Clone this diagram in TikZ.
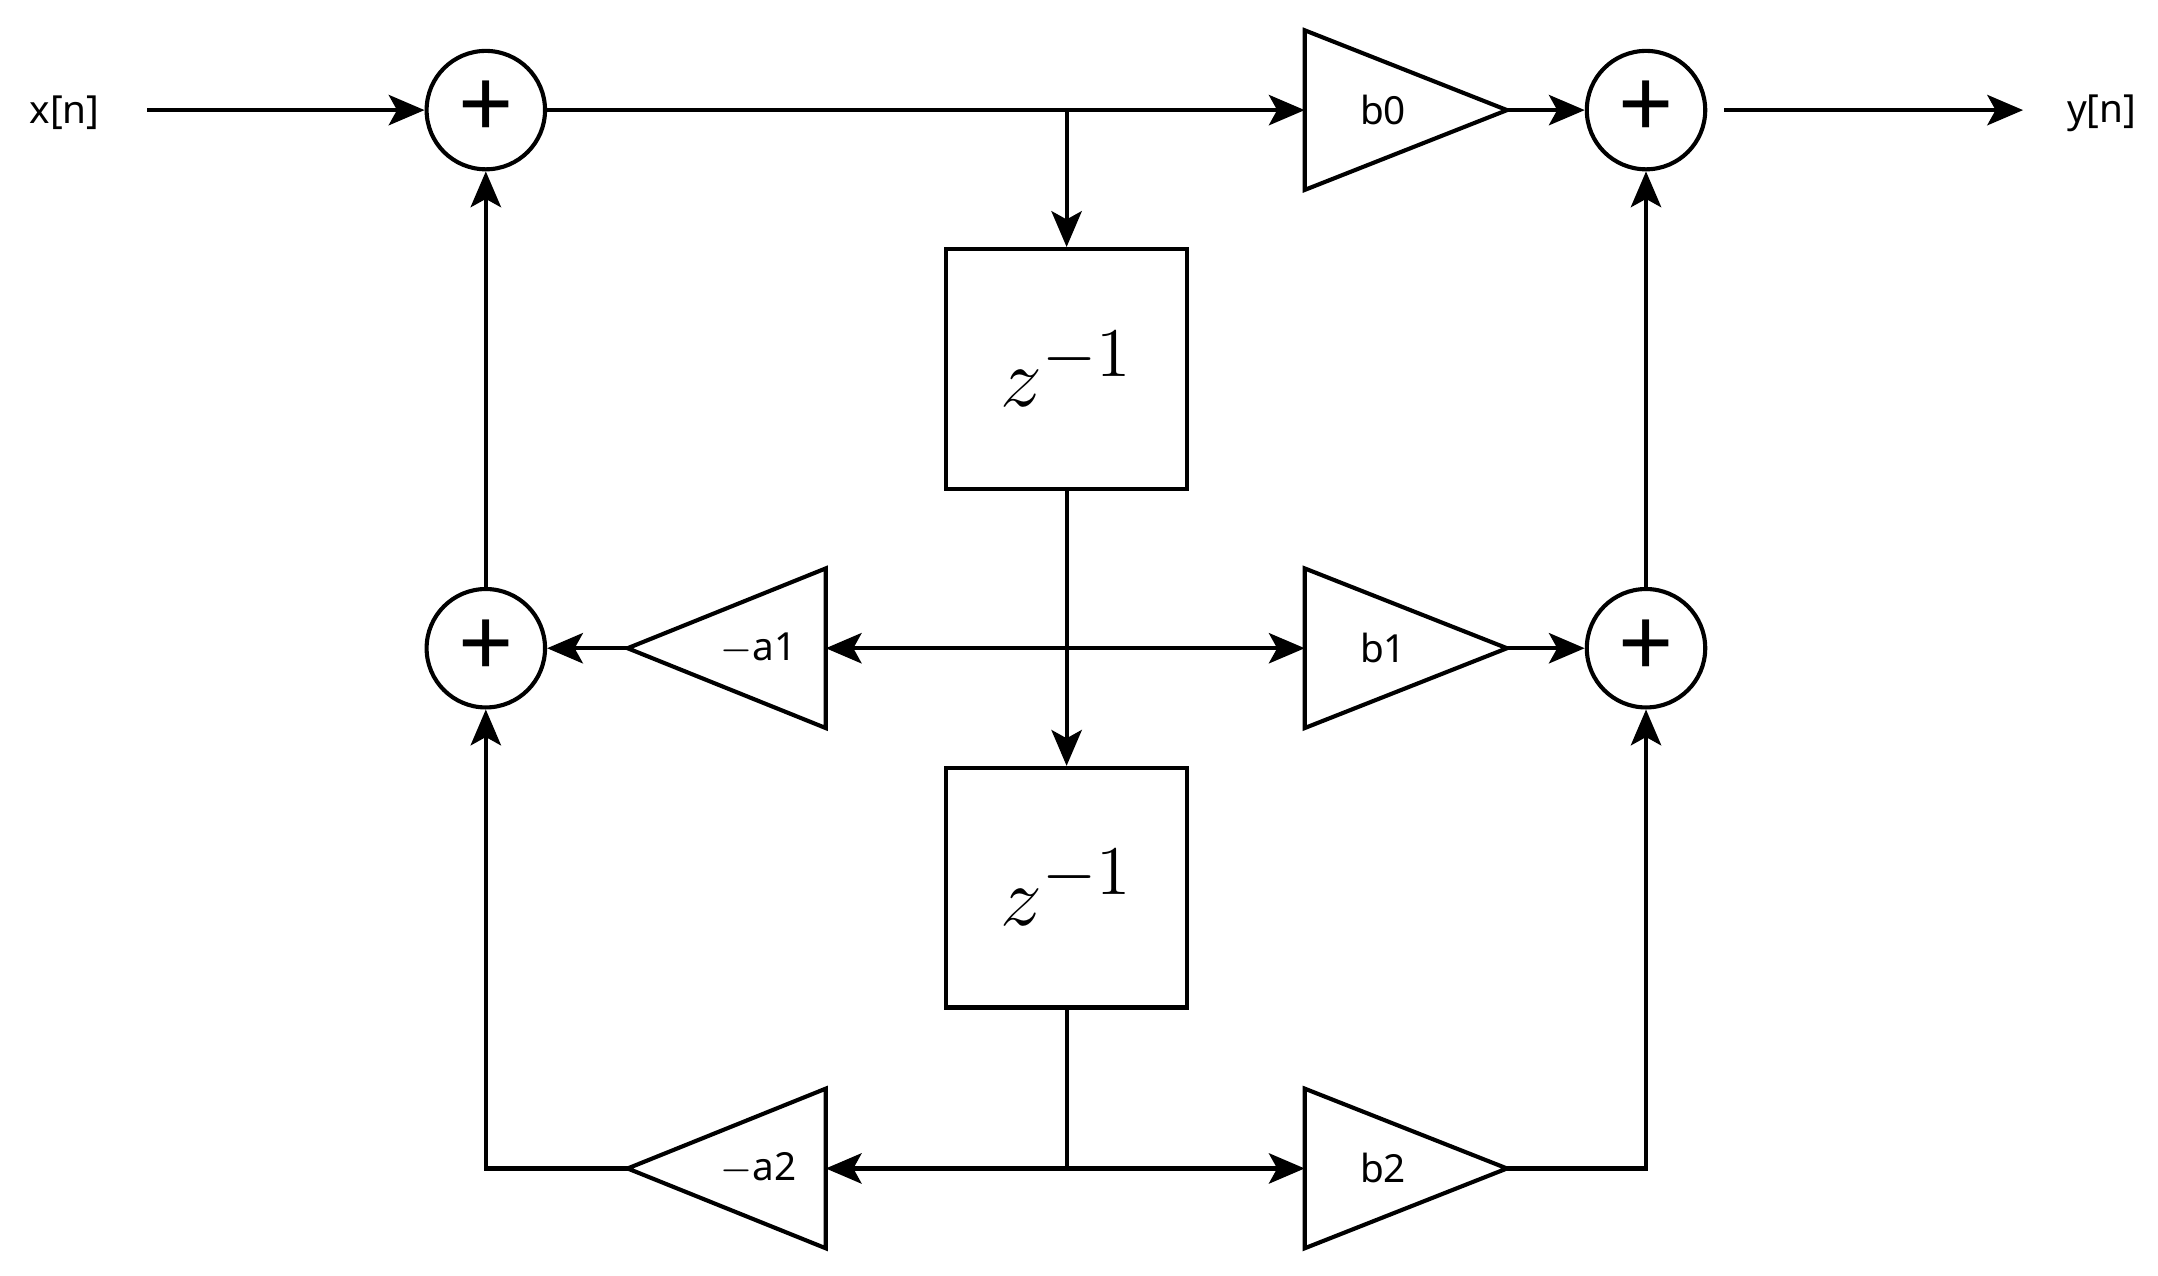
\documentclass[tikz,border=0pt]{standalone}
\usepackage{fontspec}
\setmainfont{Noto Sans}
\usetikzlibrary{arrows.meta}
\begin{document}
\begin{tikzpicture}[x=0.01cm,y=-0.01cm,line width=0.85pt,
  sum/.style={circle,draw,minimum size=0.86cm,inner sep=0pt,font=\fontsize{20}{20}\selectfont},
  dly/.style={draw,minimum width=1.75cm,minimum height=1.74cm,inner sep=0pt},
  lab/.style={font=\fontsize{8}{10}\selectfont},
  arr/.style={-{Stealth[length=2.6mm,width=2.2mm,inset=0.6mm]}},
  tri/.style={line join=miter}]
\useasboundingbox (0,0) rectangle (1568,927);
\node[lab] (x) at (47,82) {x[n]};
\node[lab] (y) at (1527,82) {y[n]};
\coordinate (xs) at (107,80);
\coordinate (ye) at (1253,80);
\coordinate (ye2) at (1470,80);
\node[sum] (s1) at (353,80) {+};
\node[sum] (s2) at (353,471) {+};
\node[sum] (s3) at (1196,80) {+};
\node[sum] (s4) at (1196,471) {+};
\node[dly] (d1) at (775,268) {\fontsize{19}{19}\selectfont$z^{-1}$};
\node[dly] (d2) at (775,645) {\fontsize{19}{19}\selectfont$z^{-1}$};
% gain triangles
\foreach \n/\yy in {b0/80,b1/471,b2/849}{
  \coordinate (\n in) at (948,\yy);
  \coordinate (\n out) at (1095,\yy);
  \draw[tri] (948,\yy-58) -- (1095,\yy) -- (948,\yy+58) -- cycle;
}
\foreach \n/\yy in {a1/471,a2/849}{
  \coordinate (\n in) at (600,\yy);
  \coordinate (\n out) at (456,\yy);
  \draw[tri] (600,\yy-58) -- (456,\yy) -- (600,\yy+58) -- cycle;
}
\node[lab] at (1005,80) {b0};
\node[lab] at (1005,471) {b1};
\node[lab] at (1005,849) {b2};
\node[lab] at (551,471) {$-$a1};
\node[lab] at (551,849) {$-$a2};
\coordinate (j1) at (775,80);
\coordinate (j2) at (775,849);
\coordinate (c2) at (353,849);
\coordinate (c4) at (1196,849);
\draw[arr] (xs) -- (s1);
\draw[arr] (s1) -- (b0in);
\draw[arr] (j1) -- (d1.north);
\draw[arr] (b0out) -- (s3);
\draw[arr] (ye) -- (ye2);
\draw[arr] (d1.south) -- (d2.north);
\draw[{Stealth[length=2.6mm,width=2.2mm,inset=0.6mm]}-{Stealth[length=2.6mm,width=2.2mm,inset=0.6mm]}] (a1in) -- (b1in);
\draw[arr] (a1out) -- (s2);
\draw[arr] (b1out) -- (s4);
\draw (d2.south) -- (j2);
\draw[arr] (j2) -- (a2in);
\draw[arr] (j2) -- (b2in);
\draw[arr] (a2out) -- (c2) -- (s2);
\draw[arr] (b2out) -- (c4) -- (s4);
\draw[arr] (s2) -- (s1);
\draw[arr] (s4) -- (s3);
\end{tikzpicture}
\end{document}
